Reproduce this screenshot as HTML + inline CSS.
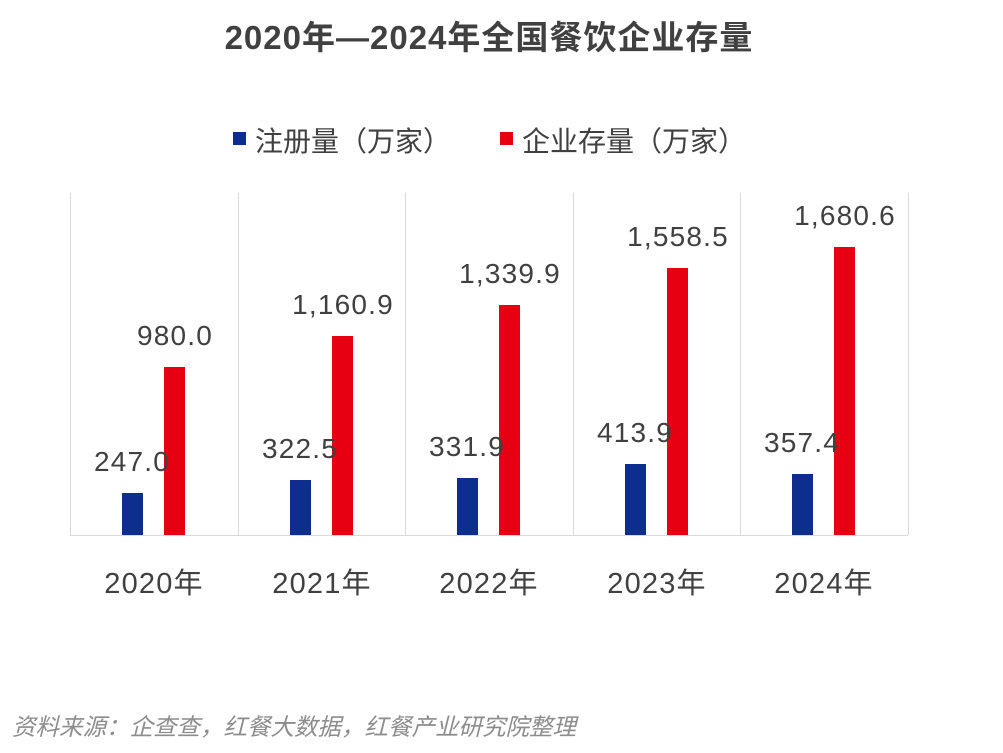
<!DOCTYPE html>
<html><head><meta charset="utf-8"><style>
body{margin:0;background:#fff;}
svg text{font-family:"Liberation Sans","Noto Sans CJK SC",sans-serif;}
</style></head><body>
<svg width="1003" height="748" xmlns="http://www.w3.org/2000/svg">
<rect width="1003" height="748" fill="#fff"/>
<text x="489" y="49" text-anchor="middle" font-size="33" font-weight="bold" fill="#404040" letter-spacing="1">2020年—2024年全国餐饮企业存量</text>
<rect x="233" y="132" width="13" height="13" fill="#0d2d8f"/>
<text x="255" y="151" font-size="28" fill="#404040">注册量（万家）</text>
<rect x="500" y="132" width="13" height="13" fill="#e60012"/>
<text x="522" y="151" font-size="28" fill="#404040">企业存量（万家）</text>
<g stroke="#d9d9d9" stroke-width="1">
<line x1="70.5" y1="193" x2="70.5" y2="535"/>
<line x1="238.5" y1="193" x2="238.5" y2="535"/>
<line x1="405.5" y1="193" x2="405.5" y2="535"/>
<line x1="573.5" y1="193" x2="573.5" y2="535"/>
<line x1="740.5" y1="193" x2="740.5" y2="535"/>
<line x1="908.5" y1="193" x2="908.5" y2="535"/>
<line x1="70" y1="535.5" x2="908" y2="535.5"/>
</g>
<g font-size="28" fill="#404040" text-anchor="middle" letter-spacing="1.2">
<rect x="122" y="493" width="21" height="42" fill="#0d2d8f"/>
<rect x="164" y="367" width="21" height="168" fill="#e60012"/>
<text x="132" y="471">247.0</text><text x="175" y="345">980.0</text>
<text x="154" y="593" font-size="29">2020年</text>

<rect x="290" y="480" width="21" height="55" fill="#0d2d8f"/>
<rect x="332" y="336" width="21" height="199" fill="#e60012"/>
<text x="300" y="458">322.5</text><text x="343" y="314">1,160.9</text>
<text x="322" y="593" font-size="29">2021年</text>

<rect x="457" y="478" width="21" height="57" fill="#0d2d8f"/>
<rect x="499" y="305" width="21" height="230" fill="#e60012"/>
<text x="467" y="456">331.9</text><text x="510" y="283">1,339.9</text>
<text x="489" y="593" font-size="29">2022年</text>

<rect x="625" y="464" width="21" height="71" fill="#0d2d8f"/>
<rect x="667" y="268" width="21" height="267" fill="#e60012"/>
<text x="635" y="442">413.9</text><text x="678" y="246">1,558.5</text>
<text x="657" y="593" font-size="29">2023年</text>

<rect x="792" y="474" width="21" height="61" fill="#0d2d8f"/>
<rect x="834" y="247" width="21" height="288" fill="#e60012"/>
<text x="802" y="452">357.4</text><text x="845" y="225">1,680.6</text>
<text x="824" y="593" font-size="29">2024年</text>
</g>
<text x="12" y="735" font-size="23.5" font-style="italic" fill="#8c8c8c">资料来源：企查查，红餐大数据，红餐产业研究院整理</text>
</svg>
</body></html>
